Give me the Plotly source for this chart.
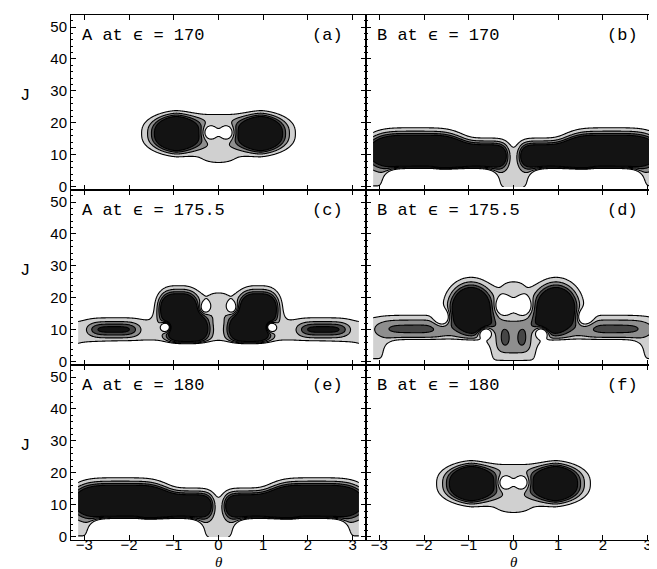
import numpy as np
import plotly.graph_objects as go

# ---------------- data ----------------
# Each panel field is described by blobs:
# (theta0, J0, w_theta, w_J, p_theta, p_J, amplitude); theta0>0 blobs are mirrored to -theta0
A170_blobs = [
    (0.95, 16.7, 0.42, 4.85, 1.6, 2.5, 14.0),  # lobes
    (0.00, 15.0, 0.60, 8.3, 2, 8, 1.45),       # central column
    (0.20, 17.0, 0.17, 2.3, 2, 2, -3.0),       # figure-eight holes
]
B170_blobs = [
    (0.00, 6.0, 10.0, 8.0, 2, 4, 1.4),         # base slab
    (2.20, 11.4, 0.95, 4.5, 4, 2, 12.0),       # outer half band
    (0.95, 9.8, 0.78, 3.6, 8, 2, 8.0),         # inner half band
    (1.62, -1.0, 1.10, 5.6, 8, 4, -25.0),      # bottom arches
]
A175_blobs = [
    (0.00, 7.0, 10.0, 8.0, 2, 4, 1.4),         # base slab
    (0.00, -1.0, 2.85, 5.5, 8, 4, -25.0),      # bottom arch
    (2.35, 10.2, 0.55, 2.2, 4, 2, 3.2),        # tails
    (0.70, 10.5, 0.42, 4.0, 3, 2, 10.0),       # lower lobes
    (0.90, 17.0, 0.40, 4.5, 3, 2, 10.0),       # upper lobes
    (0.00, 18.0, 0.50, 5.0, 2, 4, 1.3),        # central column
    (0.32, 16.8, 0.11, 1.8, 2, 2, -2.2),       # upper holes
    (1.15, 11.0, 0.12, 1.6, 2, 2, -7.0),       # lower holes
]
B175_blobs = [
    (0.00, 7.0, 10.0, 8.0, 2, 4, 1.5),         # base slab
    (1.70, -1.0, 1.02, 6.0, 8, 4, -25.0),      # bottom arches
    (2.30, 10.5, 0.80, 3.2, 4, 2, 1.9),        # tails
    (0.95, 17.0, 0.40, 6.0, 2, 2, 12.0),       # lobes
    (0.75, 11.5, 0.28, 2.5, 2, 2, 3.0),        # lobe feet
    (0.00, 20.0, 0.38, 6.0, 2, 6, 1.4),        # central fill
    (0.00, 8.0, 0.38, 5.5, 4, 4, 1.3),         # central shield
    (0.20, 7.5, 0.08, 2.2, 2, 2, 1.0),         # shield ovals
    (1.60, 14.0, 0.16, 2.2, 2, 2, -4.0),       # side notches
    (0.65, 9.5, 0.15, 2.0, 2, 2, -5.0),        # small holes
    (0.21, 17.5, 0.17, 2.3, 2, 2, -4.0),       # figure-eight holes
]
A180_blobs = list(B170_blobs)
B180_blobs = list(A170_blobs)

PANEL_BLOBS = [A170_blobs, B170_blobs, A175_blobs, B175_blobs, A180_blobs, B180_blobs]
PANEL_TITLES = ["A at ϵ = 170", "B at ϵ = 170", "A at ϵ = 175.5",
                "B at ϵ = 175.5", "A at ϵ = 180", "B at ϵ = 180"]
PANEL_TAGS = ["(a)", "(b)", "(c)", "(d)", "(e)", "(f)"]
LEVELS = [1, 2, 3, 4]
X_TICKS = [-3, -2, -1, 0, 1, 2, 3]
Y_TICKS = [0, 10, 20, 30, 40, 50]
X_LABEL = "θ"
Y_LABEL = "J"

# ---------------- grid ----------------
theta = np.linspace(-np.pi, np.pi, 401)
J = np.linspace(0, 32, 257)
TT, JJ = np.meshgrid(theta, J)


def field(blobs):
    z = np.zeros_like(TT)
    for (t0, j0, wt, wj, pt, pj, a) in blobs:
        centers = [t0] if t0 == 0 else [t0, -t0]
        for c in centers:
            z += a * np.exp(-np.abs((TT - c) / wt) ** pt) * np.exp(-np.abs((JJ - j0) / wj) ** pj)
    return z


cscale = [[0, "#ffffff"], [0.25, "#ffffff"], [0.25, "#d0d0d0"], [0.5, "#d0d0d0"],
          [0.5, "#8e8e8e"], [0.75, "#8e8e8e"], [0.75, "#464646"], [0.95, "#464646"],
          [0.95, "#131313"], [1, "#131313"]]

W, H, ML, MR, MT, MB = 657, 569, 63, 4, 7, 37
PW, PH = W - ML - MR, H - MT - MB

fig = go.Figure()
xdoms = [[0, 0.5], [0.5, 1]]
ydoms = [[2 / 3, 1], [1 / 3, 2 / 3], [0, 1 / 3]]
tickfont = dict(family="Liberation Sans", size=15, color="black")

for i, blobs in enumerate(PANEL_BLOBS):
    r, c = divmod(i, 2)
    k = i + 1
    xa = "x" if k == 1 else f"x{k}"
    ya = "y" if k == 1 else f"y{k}"
    fig.add_trace(go.Contour(
        x=theta, y=J, z=field(blobs), xaxis=xa, yaxis=ya,
        contours=dict(start=LEVELS[0], end=LEVELS[-1], size=1, coloring="fill"),
        colorscale=cscale, showscale=False, hoverinfo="skip",
        line=dict(color="black", width=1.1, smoothing=1),
    ))
    axx = dict(domain=xdoms[c], range=[-3.3, 3.3], anchor=ya,
               tickvals=X_TICKS, ticks="inside", ticklen=5, tickcolor="black",
               showline=True, linecolor="black", linewidth=1, mirror="allticks",
               showgrid=False, zeroline=False, ticklabelstandoff=-9,
               showticklabels=(r == 2), tickfont=tickfont)
    axy = dict(domain=ydoms[r], range=[-0.95, 53.75], anchor=xa,
               tickvals=Y_TICKS, ticks="inside", ticklen=5, tickcolor="black",
               showline=True, linecolor="black", linewidth=1, mirror="allticks",
               showgrid=False, zeroline=False,
               minor=dict(dtick=2, ticks="inside", ticklen=2, tickcolor="black"),
               showticklabels=(c == 0), tickfont=tickfont)
    fig.layout[("xaxis" if k == 1 else f"xaxis{k}")] = axx
    fig.layout[("yaxis" if k == 1 else f"yaxis{k}")] = axy
    fig.add_annotation(text=PANEL_TITLES[i], xref=f"{xa} domain", yref=f"{ya} domain",
                       x=0.03, y=0.885, xanchor="left", yanchor="middle", showarrow=False,
                       font=dict(family="Liberation Mono", size=17, color="black"))
    fig.add_annotation(text=PANEL_TAGS[i], xref=f"{xa} domain", yref=f"{ya} domain",
                       x=0.93, y=0.885, xanchor="right", yanchor="middle", showarrow=False,
                       font=dict(family="Liberation Mono", size=17, color="black"))
    if c == 0:
        fig.add_annotation(text=Y_LABEL, xref="paper", yref=f"{ya} domain",
                           x=-46 / PW, y=0.54, xanchor="center", yanchor="middle",
                           showarrow=False,
                           font=dict(family="Liberation Mono", size=17, color="black"))
    if r == 2:
        fig.add_annotation(text="<i>" + X_LABEL + "</i>", xref=f"{xa} domain", yref="paper",
                           x=0.5, y=-(554 - (H - MB)) / PH, xanchor="center", yanchor="middle",
                           showarrow=False,
                           font=dict(family="Liberation Serif", size=15, color="black"))

fig.update_layout(width=W, height=H, margin=dict(l=ML, r=MR, t=MT, b=MB),
                  paper_bgcolor="white", plot_bgcolor="white", showlegend=False)
fig.write_html("out.html")
